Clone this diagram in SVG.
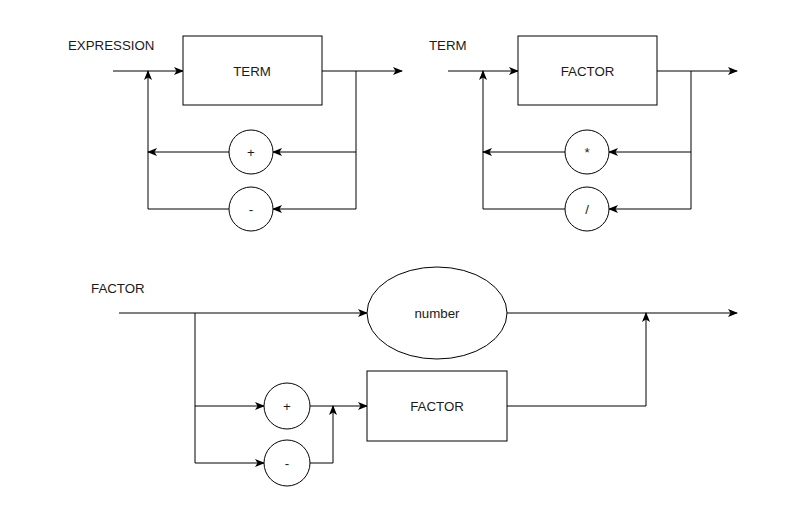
<svg xmlns="http://www.w3.org/2000/svg" width="810" height="528" viewBox="0 0 810 528">
<style>
.n{fill:#fff;stroke:#000;stroke-width:1}
.t{font-family:"Liberation Sans",Arial,sans-serif;font-size:13.3px;fill:#1a1a1a}
.c{text-anchor:middle;dominant-baseline:central}
.e{fill:none;stroke:#000;stroke-width:1}
.a{marker-end:url(#ar)}
</style>
<defs>
<marker id="ar" viewBox="0 0 10 8" refX="9" refY="4" markerWidth="10" markerHeight="8" markerUnits="userSpaceOnUse" orient="auto">
<path d="M0,0 L10,4 L0,8 L2.5,4 z" fill="#000"/>
</marker>
</defs>
<rect width="810" height="528" fill="#fff"/>
<text class="t" x="68" y="49.5">EXPRESSION</text>
<text class="t" x="429" y="49.5">TERM</text>
<text class="t" x="91" y="292.5">FACTOR</text>
<g id="connectors">
<line class="e a" x1="113" y1="71" x2="183" y2="71"/>
<line class="e a" x1="322" y1="71" x2="402" y2="71"/>
<path class="e" d="M356,71 V209"/>
<line class="e a" x1="356" y1="152" x2="273" y2="152"/>
<line class="e a" x1="229" y1="152" x2="148" y2="152"/>
<line class="e a" x1="356" y1="209" x2="273" y2="209"/>
<path class="e a" d="M229,209 H148 V71"/>
<line class="e a" x1="448" y1="71" x2="518" y2="71"/>
<line class="e a" x1="657" y1="71" x2="737" y2="71"/>
<path class="e" d="M691,71 V209"/>
<line class="e a" x1="691" y1="152" x2="609" y2="152"/>
<line class="e a" x1="565" y1="152" x2="483" y2="152"/>
<line class="e a" x1="691" y1="209" x2="609" y2="209"/>
<path class="e a" d="M565,209 H483 V71"/>
<line class="e a" x1="119" y1="313" x2="367" y2="313"/>
<line class="e a" x1="507" y1="313" x2="737" y2="313"/>
<path class="e a" d="M195,313 V406 H264"/>
<path class="e a" d="M195,406 V463 H264"/>
<line class="e a" x1="310" y1="406" x2="367" y2="406"/>
<path class="e a" d="M310,463 H333 V406"/>
<path class="e a" d="M507,406 H646 V313"/>
</g>
<g id="term1"><rect class="n" x="183" y="36" width="139" height="69"/><text class="t c" x="252" y="71">TERM</text></g>
<g id="plus1"><circle class="n" cx="251" cy="152" r="22"/><text class="t c" x="251" y="152">+</text></g>
<g id="minus1"><circle class="n" cx="251" cy="209" r="22"/><text class="t c" x="251" y="209">-</text></g>
<g id="factor1"><rect class="n" x="518" y="36" width="139" height="69"/><text class="t c" x="587.5" y="71">FACTOR</text></g>
<g id="mul"><circle class="n" cx="587" cy="152" r="22"/><text class="t c" x="587" y="152">*</text></g>
<g id="div"><circle class="n" cx="587" cy="209" r="22"/><text class="t c" x="587" y="209">/</text></g>
<g id="number"><ellipse class="n" cx="437" cy="313" rx="70" ry="46"/><text class="t c" x="437" y="313">number</text></g>
<g id="plus2"><circle class="n" cx="287" cy="406" r="23"/><text class="t c" x="287" y="406">+</text></g>
<g id="minus2"><circle class="n" cx="287" cy="463" r="23"/><text class="t c" x="287" y="463">-</text></g>
<g id="factor2"><rect class="n" x="367" y="371" width="140" height="70"/><text class="t c" x="437" y="406">FACTOR</text></g>
</svg>
